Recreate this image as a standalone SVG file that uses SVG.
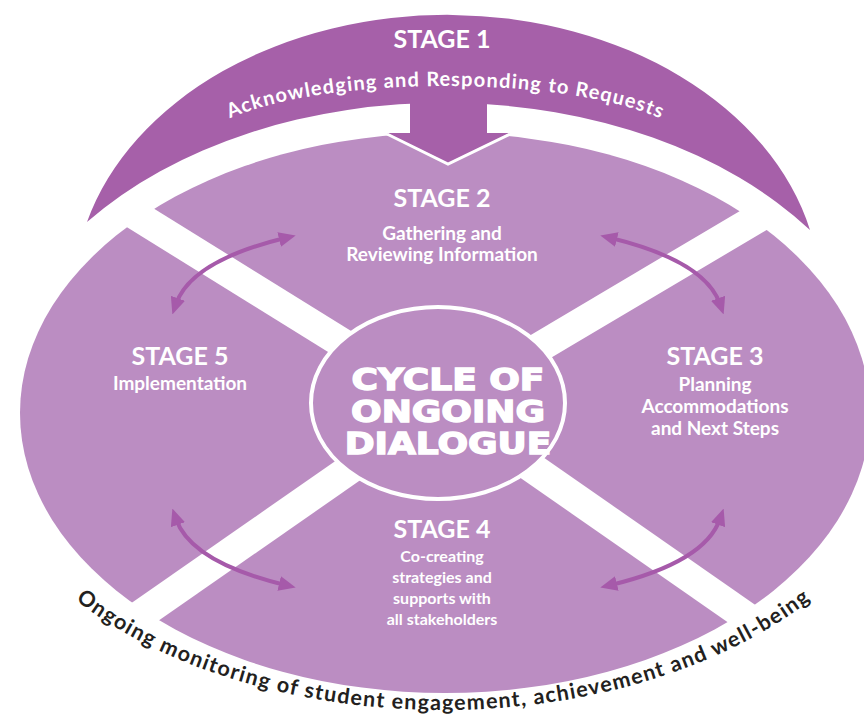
<svg xmlns="http://www.w3.org/2000/svg" width="864" height="724" viewBox="0 0 864 724">
<style>
.lbl{font-family:Lato,"Open Sans","DejaVu Sans",sans-serif;font-weight:bold;fill:#ffffff;text-anchor:middle}
.st{font-size:25px}
.sub{font-size:19px}
.sub4{font-size:16px}
.cyc{font-family:"DejaVu Sans",sans-serif;font-weight:bold;font-size:30px;fill:#ffffff;stroke:#ffffff;stroke-width:1.4;text-anchor:middle}
.arr{fill:none;stroke:#a65aaa;stroke-width:4;marker-start:url(#ah);marker-end:url(#ah)}
.band{stroke:#ffffff;stroke-width:30;fill:none}
</style>
<defs>
<marker id="ah" viewBox="0 0 17 15" refX="6" refY="7.5" markerWidth="17" markerHeight="15" markerUnits="userSpaceOnUse" orient="auto-start-reverse">
<path d="M0,0 L17,7.5 L0,15 Z" fill="#a65aaa"/>
</marker>
<clipPath id="clipMain"><ellipse cx="445" cy="413" rx="427" ry="282"/></clipPath>
<path id="topTextPath" d="M195,152 A250,66 0 0 1 695,152"/>
<path id="bottomTextPath" d="M-30,413 A473,297 0 0 0 916,413"/>
</defs>
<rect width="864" height="724" fill="#ffffff"/>

<g id="stage1">
<path d="M87,222 A373,280 0 0 1 810,230 A452,308 0 0 0 87,222 Z" fill="#a660a9"/>
<text class="lbl st" x="442" y="48">STAGE 1</text>
<text class="lbl" font-size="20px"><textPath href="#topTextPath" startOffset="50%" textLength="438" lengthAdjust="spacing">Acknowledging and Responding to Requests</textPath></text>
</g>

<g id="cycle-ellipse">
<ellipse cx="445" cy="413" rx="425" ry="280" fill="#bb8dc2"/>
</g>

<g id="stage1-arrow">
<polygon points="410,96 487,96 487,133 510,133 448,163 387,133 410,133" fill="#a660a9"/>
<polyline points="387,134 448,164 510,134" fill="none" stroke="#ffffff" stroke-width="3"/>
</g>

<g id="dividers" clip-path="url(#clipMain)">
<line class="band" x1="442" y1="405" x2="60" y2="168"/>
<line class="band" x1="442" y1="405" x2="840" y2="169"/>
<line class="band" x1="442" y1="405" x2="60" y2="671"/>
<line class="band" x1="442" y1="405" x2="824" y2="671"/>
</g>

<g id="stage2">
<text class="lbl st" x="442" y="207">STAGE 2</text>
<text class="lbl sub" x="442" y="240">Gathering and<tspan x="442" dy="21">Reviewing Information</tspan></text>
</g>

<g id="stage3">
<text class="lbl st" x="715" y="365">STAGE 3</text>
<text class="lbl sub" x="715" y="391">Planning<tspan x="715" dy="22">Accommodations</tspan><tspan x="715" dy="22">and Next Steps</tspan></text>
</g>

<g id="stage4">
<text class="lbl st" x="442" y="538">STAGE 4</text>
<text class="lbl sub4" x="442" y="562">Co-creating<tspan x="442" dy="21">strategies and</tspan><tspan x="442" dy="21">supports with</tspan><tspan x="442" dy="21">all stakeholders</tspan></text>
</g>

<g id="stage5">
<text class="lbl st" x="180" y="365">STAGE 5</text>
<text class="lbl sub" x="180" y="390">Implementation</text>
</g>

<g id="center">
<ellipse cx="438" cy="403" rx="127" ry="96" fill="#bb8dc2" stroke="#ffffff" stroke-width="4"/>
<g transform="translate(448,0) scale(1.2,1)">
<text class="cyc" x="0" y="390">CYCLE OF<tspan x="0" dy="32">ONGOING</tspan><tspan x="0" dy="32">DIALOGUE</tspan></text>
</g>
</g>

<g id="connectors">
<path class="arr" d="M176,304 Q191,261 285,238"/>
<path class="arr" d="M720,304 Q705,261 611,238"/>
<path class="arr" d="M176,519 Q191,562 285,585"/>
<path class="arr" d="M720,519 Q705,562 611,585"/>
</g>

<g id="monitoring">
<text font-family="Lato,'Open Sans',sans-serif" font-weight="bold" font-size="21.5px" fill="#231f20" text-anchor="middle"><textPath href="#bottomTextPath" startOffset="50%" textLength="780" lengthAdjust="spacing">Ongoing monitoring of student engagement, achievement and well-being</textPath></text>
</g>
</svg>
